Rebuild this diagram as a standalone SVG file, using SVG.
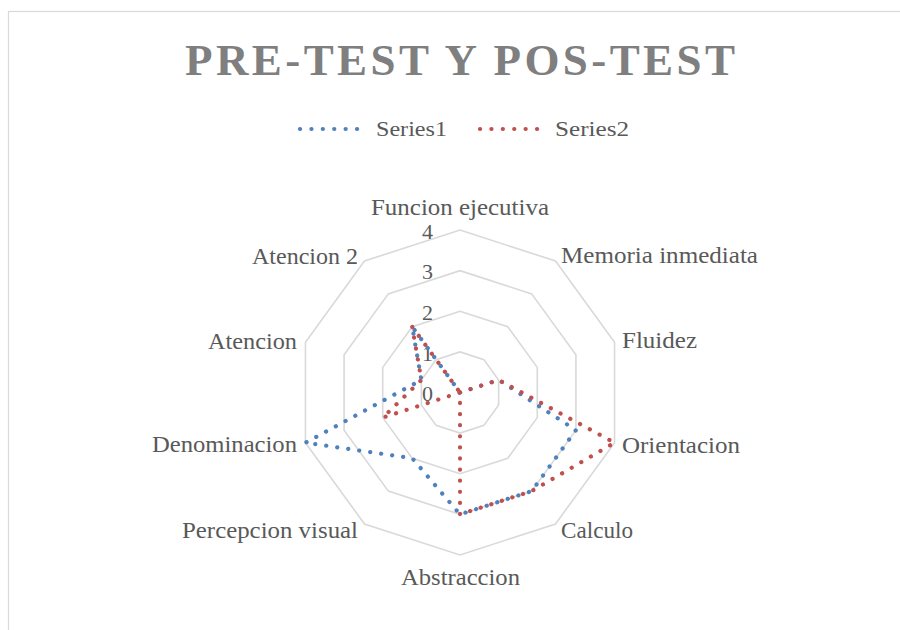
<svg xmlns="http://www.w3.org/2000/svg" width="900" height="630" viewBox="0 0 900 630">
<defs>
<style>
.bg{fill:#ffffff}
.frame{fill:none;stroke:#d9d9d9;stroke-width:1.2}
.title{font-family:"Liberation Serif","Times New Roman",serif;font-weight:bold;font-size:45px;fill:#7f7f7f}
.lbl{font-family:"Liberation Serif","Times New Roman",serif;font-size:23px;fill:#595959}
.leg{font-family:"Liberation Serif","Times New Roman",serif;font-size:22px;fill:#595959}
.tick{font-family:"Liberation Serif","Times New Roman",serif;font-size:22px;fill:#595959;text-anchor:end}
.ring{fill:none;stroke:#d9d9d9;stroke-width:1.6;stroke-linejoin:miter}
.s1{fill:none;stroke:#4F81BD;stroke-width:4.2;stroke-linecap:round;stroke-linejoin:round;stroke-dasharray:0.1 11}
.s2{fill:none;stroke:#C0504D;stroke-width:4.2;stroke-linecap:round;stroke-linejoin:round;stroke-dasharray:0.1 11}
</style>
</defs>
<rect class="bg" x="0" y="0" width="900" height="630"/>
<rect class="frame" x="8.5" y="11.5" width="900" height="630"/>
<text class="title" x="185" y="75" textLength="550" lengthAdjust="spacing">PRE-TEST Y POS-TEST</text>
<g id="legend">
<line class="s1" x1="300" y1="129" x2="368" y2="129" style="stroke-dasharray:0.1 11.3"/>
<text class="leg" x="376" y="136" textLength="71" lengthAdjust="spacingAndGlyphs">Series1</text>
<line class="s2" x1="480" y1="129" x2="548" y2="129" style="stroke-dasharray:0.1 11.3"/>
<text class="leg" x="555" y="136" textLength="74" lengthAdjust="spacingAndGlyphs">Series2</text>
</g>
<g id="grid">
<polygon class="ring" points="460,351.875 483.88,359.63 498.64,379.95 498.64,405.05 483.88,425.37 460,433.125 436.12,425.37 421.36,405.05 421.36,379.95 436.12,359.63"/>
<polygon class="ring" points="460,311.25 507.76,326.77 537.28,367.39 537.28,417.61 507.76,458.23 460,473.75 412.24,458.23 382.72,417.61 382.72,367.39 412.24,326.77"/>
<polygon class="ring" points="460,270.625 531.64,293.9 575.92,354.84 575.92,430.16 531.64,491.1 460,514.375 388.36,491.1 344.08,430.16 344.08,354.84 388.36,293.9"/>
<polygon class="ring" points="460,230 555.52,261.04 614.55,342.29 614.55,442.71 555.52,523.96 460,555 364.48,523.96 305.45,442.71 305.45,342.29 364.48,261.04"/>
</g>
<g id="ticks">
<text class="tick" x="433" y="401">0</text>
<text class="tick" x="433" y="361">1</text>
<text class="tick" x="433" y="320">2</text>
<text class="tick" x="433" y="279">3</text>
<text class="tick" x="433" y="239">4</text>
</g>
<g id="axis-labels">
<g id="n-funcion"><text class="lbl" x="371" y="215" textLength="178" lengthAdjust="spacingAndGlyphs">Funcion ejecutiva</text></g>
<g id="n-memoria"><text class="lbl" x="561" y="263" textLength="197" lengthAdjust="spacingAndGlyphs">Memoria inmediata</text></g>
<g id="n-fluidez"><text class="lbl" x="622" y="348" textLength="75" lengthAdjust="spacingAndGlyphs">Fluidez</text></g>
<g id="n-orientacion"><text class="lbl" x="622" y="453" textLength="118" lengthAdjust="spacingAndGlyphs">Orientacion</text></g>
<g id="n-calculo"><text class="lbl" x="561" y="538" textLength="72" lengthAdjust="spacingAndGlyphs">Calculo</text></g>
<g id="n-abstraccion"><text class="lbl" x="401" y="585" textLength="119" lengthAdjust="spacingAndGlyphs">Abstraccion</text></g>
<g id="n-percepcion"><text class="lbl" x="182" y="538" textLength="176" lengthAdjust="spacingAndGlyphs">Percepcion visual</text></g>
<g id="n-denominacion"><text class="lbl" x="152" y="452" textLength="145" lengthAdjust="spacingAndGlyphs">Denominacion</text></g>
<g id="n-atencion"><text class="lbl" x="208" y="349" textLength="89" lengthAdjust="spacingAndGlyphs">Atencion</text></g>
<g id="n-atencion2"><text class="lbl" x="252" y="264" textLength="106" lengthAdjust="spacingAndGlyphs">Atencion 2</text></g>
</g>
<g id="series">
<polygon id="series1" class="s1" points="460,392.5 460,392.5 498.64,379.95 575.92,430.16 531.64,491.1 460,514.375 412.24,458.23 305.45,442.71 421.36,379.95 412.24,326.77"/>
<polygon id="series2" class="s2" points="460,392.5 460,392.5 498.64,379.95 614.55,442.71 531.64,491.1 460,514.375 460,392.5 382.72,417.61 421.36,379.95 412.24,326.77"/>
</g>
</svg>
